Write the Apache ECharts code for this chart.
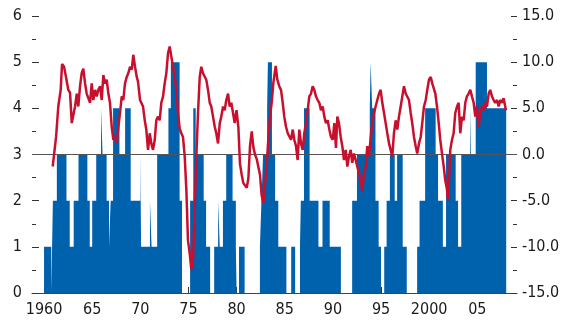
<!DOCTYPE html>
<html>
<head>
<meta charset="utf-8">
<script src="https://cdn.jsdelivr.net/npm/echarts@6/dist/echarts.min.js"></script>
<style>
html,body{margin:0;padding:0;background:#fff;}
#c{width:567px;height:320px;}
</style>
</head>
<body>
<div id="c"></div>
<script>
// Bars (left axis): start year of each run and the value held until the next start
const barStart = [1960.00,1960.75,1960.92,1961.33,1962.33,1962.67,1963.08,1963.58,1964.50,1964.75,
  1965.00,1965.42,1965.92,1966.08,1966.50,1966.75,1966.92,1967.17,1967.83,1968.42,
  1969.00,1970.00,1970.08,1971.00,1971.17,1971.75,1972.92,1973.17,1974.08,1974.33,
  1975.17,1975.50,1975.75,1976.58,1976.83,1977.25,1977.67,1978.08,1978.25,1978.58,
  1978.92,1979.58,1979.92,1980.00,1980.25,1980.83,1982.42,1982.58,1982.75,1983.17,
  1983.25,1983.67,1984.00,1984.33,1985.17,1985.67,1986.08,1986.58,1986.67,1987.00,
  1987.58,1988.50,1988.92,1989.67,1990.83,1992.00,1992.50,1993.83,1993.92,1994.08,
  1994.42,1994.75,1995.00,1995.33,1995.58,1995.92,1996.42,1996.67,1997.25,1997.67,
  1998.75,1999.00,1999.58,2000.67,2000.92,2001.42,2001.75,2002.75,2003.00,2003.33,
  2004.25,2004.33,2004.83,2006.00];
const barValue = [1,0,2,3,2,1,2,3,2,1,
  2,3,4,3,2,1,2,4,3,4,
  2,3,1,2,1,3,4,5,2,0,
  2,4,3,2,1,0,1,2,1,2,
  3,2,1,0,1,0,1,2,3,4,
  5,3,2,1,0,1,0,1,2,4,
  2,1,2,1,0,2,3,4,5,4,
  2,1,0,1,2,3,2,3,1,0,
  1,2,4,3,2,1,3,2,1,3,
  4,3,5,4];
const barEnd = 2008.0;

// Line (right axis): year and value
const lineYear = [1960.90,1961.25,1961.48,1961.73,1961.87,1962.08,1962.28,1962.52,1962.70,1962.88,
  1963.04,1963.22,1963.40,1963.56,1963.74,1963.91,1964.08,1964.26,1964.43,1964.60,
  1964.78,1964.95,1965.12,1965.30,1965.47,1965.64,1965.82,1965.99,1966.16,1966.33,
  1966.51,1966.68,1966.85,1967.03,1967.20,1967.37,1967.55,1967.72,1967.89,1968.07,
  1968.23,1968.41,1968.59,1968.75,1968.93,1969.11,1969.27,1969.45,1969.63,1969.76,
  1969.97,1970.10,1970.28,1970.46,1970.62,1970.80,1970.98,1971.14,1971.32,1971.50,
  1971.66,1971.84,1972.01,1972.18,1972.36,1972.53,1972.70,1972.88,1973.05,1973.22,
  1973.40,1973.57,1973.74,1973.91,1974.09,1974.26,1974.43,1974.61,1974.78,1974.95,
  1975.13,1975.30,1975.47,1975.65,1975.82,1975.99,1976.17,1976.33,1976.51,1976.69,
  1976.85,1977.03,1977.21,1977.37,1977.55,1977.73,1977.89,1978.07,1978.25,1978.41,
  1978.59,1978.76,1978.93,1979.11,1979.28,1979.45,1979.63,1979.80,1979.99,1980.18,
  1980.35,1980.53,1980.70,1980.87,1981.05,1981.22,1981.39,1981.57,1981.74,1981.91,
  1982.09,1982.25,1982.43,1982.60,1982.77,1982.95,1983.13,1983.29,1983.47,1983.64,
  1983.81,1984.06,1984.23,1984.43,1984.61,1984.79,1984.95,1985.13,1985.31,1985.47,
  1985.65,1985.83,1985.99,1986.17,1986.34,1986.51,1986.69,1986.86,1987.03,1987.21,
  1987.38,1987.55,1987.73,1987.90,1988.07,1988.24,1988.42,1988.59,1988.76,1988.94,
  1989.11,1989.28,1989.46,1989.63,1989.80,1989.98,1990.15,1990.32,1990.46,1990.63,
  1990.81,1990.98,1991.15,1991.33,1991.50,1991.67,1991.85,1992.01,1992.19,1992.37,
  1992.53,1992.71,1992.89,1993.05,1993.23,1993.41,1993.57,1993.75,1993.93,1994.09,
  1994.27,1994.44,1994.61,1994.79,1994.96,1995.13,1995.31,1995.48,1995.65,1995.83,
  1996.00,1996.17,1996.34,1996.52,1996.69,1996.86,1997.04,1997.21,1997.38,1997.56,
  1997.73,1997.90,1998.08,1998.24,1998.42,1998.60,1998.76,1998.94,1999.12,1999.28,
  1999.46,1999.64,1999.80,1999.98,2000.16,2000.32,2000.50,2000.64,2000.81,2000.99,
  2001.15,2001.33,2001.51,2001.67,2001.85,2001.95,2002.09,2002.19,2002.37,2002.54,
  2002.71,2002.89,2003.06,2003.23,2003.41,2003.58,2003.75,2003.92,2004.10,2004.27,
  2004.44,2004.62,2004.79,2004.96,2005.14,2005.31,2005.48,2005.66,2005.83,2006.00,
  2006.18,2006.34,2006.52,2006.69,2006.86,2007.04,2007.22,2007.38,2007.56,2007.73,
  2007.97];
const lineValue = [-1.3,1.9,5.2,7.0,9.8,9.5,8.4,7.0,6.7,3.4,
  3.6,5.2,6.6,5.2,7.4,8.8,9.3,7.7,6.6,6.1,
  5.6,7.7,5.9,7.0,6.3,7.0,7.4,5.9,8.6,7.7,
  8.1,6.6,5.6,3.0,1.6,1.9,1.2,3.0,4.5,6.3,
  5.9,7.7,8.4,8.8,9.5,9.2,10.8,9.5,8.4,7.9,
  5.9,5.9,5.2,3.7,2.7,0.5,2.3,1.2,0.5,1.6,
  3.7,4.1,3.7,5.6,6.3,7.7,8.8,11.0,11.7,10.6,
  9.5,8.4,7.0,4.5,2.8,2.3,1.9,-0.2,-3.8,-9.3,
  -10.7,-12.5,-11.4,-5.6,-0.2,4.5,8.4,9.5,8.8,8.8,
  8.1,7.0,5.6,5.2,4.1,3.0,2.3,1.2,3.4,4.1,
  5.2,4.8,5.9,6.6,5.2,5.6,4.5,3.4,4.8,3.0,
  -1.0,-2.2,-3.1,-3.0,-3.6,-2.6,0.9,2.5,0.8,0.0,
  -0.5,-1.3,-2.2,-4.4,-5.3,-3.3,-1.0,1.6,4.1,5.6,
  7.7,9.6,8.1,7.4,7.0,5.6,4.1,3.0,2.3,2.3,
  1.6,2.7,1.6,0.9,-0.6,2.7,1.2,0.5,2.3,3.4,
  4.8,6.3,6.6,7.4,7.0,6.3,5.9,5.6,4.8,5.2,
  4.1,3.4,3.7,2.7,1.9,1.6,3.4,0.7,4.1,3.4,
  1.9,0.9,-0.6,0.5,-1.3,-0.2,0.5,-0.9,0.1,-0.6,
  -1.3,-2.0,-2.8,-4.0,-2.0,-1.3,0.9,-0.2,1.9,3.4,
  4.5,5.2,5.9,6.6,7.0,5.6,4.5,3.4,2.3,1.2,
  0.5,-0.2,2.3,3.7,2.7,4.1,5.2,6.3,7.4,6.6,
  6.6,5.9,4.5,3.4,1.9,0.9,0.1,1.2,1.9,3.4,
  5.2,5.9,7.0,8.1,8.4,7.7,7.8,6.6,5.2,3.4,
  1.6,0.1,-1.3,-2.8,-3.8,-4.9,-2.0,0.5,1.6,2.3,
  4.5,5.2,5.6,2.3,4.1,3.7,5.6,6.3,6.6,7.0,
  6.3,5.6,4.1,5.2,3.0,4.5,5.2,4.8,5.6,5.2,
  6.6,7.0,6.3,5.9,5.6,5.9,5.2,5.9,5.6,6.1,
  4.8];

// Axis ticks/labels
const xTickYears = [1960,1965,1970,1975,1980,1985,1990,1995,2000,2005];
const xTickLabels = ['1960','65','70','75','80','85','90','95','2000','05'];

const barData = barStart.map((y, i) => [y, barValue[i]]);
barData.push([barEnd, barValue[barValue.length - 1]]);
const lineData = lineYear.map((y, i) => [y, lineValue[i]]);

const FONT = "'Liberation Sans Narrow', 'DejaVu Sans Condensed', 'Arial Narrow', sans-serif";
const chart = echarts.init(document.getElementById('c'), null, {renderer: 'canvas'});
chart.setOption({
  animation: false,
  backgroundColor: '#ffffff',
  grid: {left: 32, right: 50, top: 16, bottom: 27, containLabel: false},
  xAxis: {
    type: 'value', min: 1958.75, max: 2009.12,
    axisLine: {show: true, lineStyle: {color: '#444', width: 1}},
    axisTick: {show: true, inside: true, length: 6, customValues: xTickYears, lineStyle: {color: '#333'}},
    axisLabel: {
      show: true, customValues: xTickYears, margin: 9,
      fontFamily: FONT, fontSize: 16, color: '#1a1a1a',
      formatter: v => xTickLabels[xTickYears.indexOf(Math.round(v))] || ''
    },
    splitLine: {show: false}
  },
  yAxis: [{
    type: 'value', min: 0, max: 6, interval: 1, position: 'left',
    axisLine: {show: false},
    axisTick: {show: true, inside: true, length: 7, lineStyle: {color: '#333'}},
    minorTick: {show: true, splitNumber: 2, length: 4, lineStyle: {color: '#333'}},
    axisLabel: {fontFamily: FONT, fontSize: 16, color: '#1a1a1a', margin: 10},
    splitLine: {show: false}
  }, {
    type: 'value', min: -15, max: 15, interval: 5, position: 'right',
    axisLine: {show: false},
    axisTick: {show: true, inside: true, length: 6, lineStyle: {color: '#333'}},
    minorTick: {show: true, splitNumber: 2, length: 4, lineStyle: {color: '#333'}},
    axisLabel: {fontFamily: FONT, fontSize: 16, color: '#1a1a1a', margin: 5,
      formatter: v => v.toFixed(1)},
    splitLine: {show: false}
  }],
  series: [{
    type: 'line', yAxisIndex: 0, data: barData, step: 'end',
    showSymbol: false, symbol: 'none',
    lineStyle: {width: 0, color: '#0061AD'},
    areaStyle: {color: '#0061AD', opacity: 1, origin: 'start'},
    z: 2,
    markLine: {
      silent: true, symbol: ['none', 'none'], label: {show: false},
      lineStyle: {color: '#555', width: 1, type: 'solid'},
      data: [{yAxis: 3}]
    }
  }, {
    type: 'line', yAxisIndex: 1, data: lineData,
    showSymbol: false, symbol: 'none',
    lineStyle: {width: 2.5, color: '#C8102E'},
    z: 5
  }]
});
</script>
</body>
</html>
